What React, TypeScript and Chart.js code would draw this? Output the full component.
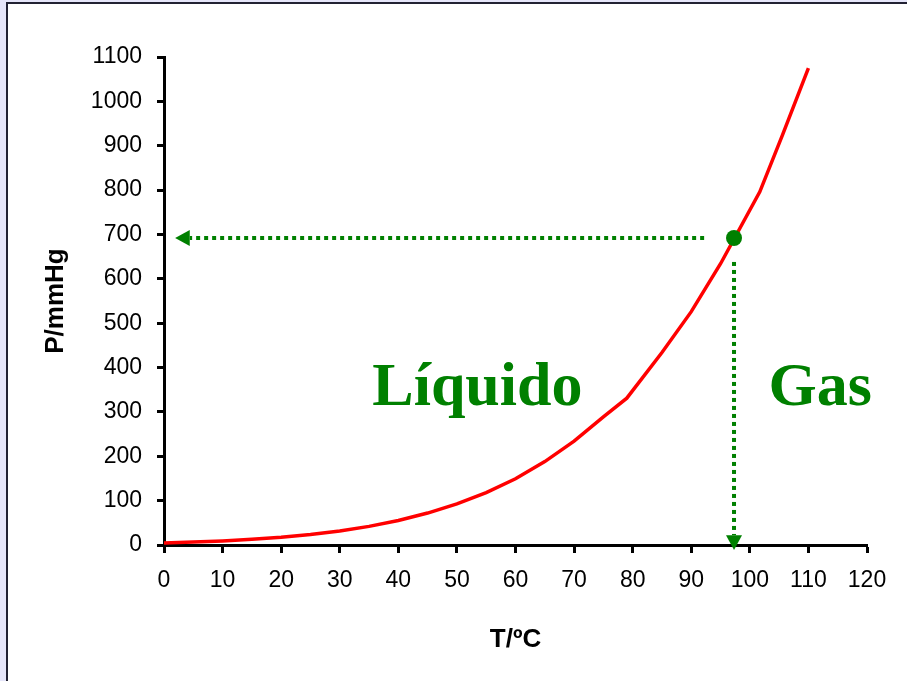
import React, { useEffect, useRef } from "react";
import { Chart, registerables } from "chart.js";

Chart.register(...registerables);

// Vapour pressure curve
const temperatures = [0, 5, 10, 15, 20, 25, 30, 35, 40, 45, 50, 55, 60, 65, 70, 75, 79, 85, 90, 95, 101.7, 105.6, 110];
const pressures = [4.6, 6.5, 9.2, 12.8, 17.5, 23.8, 31.8, 42, 55.3, 72, 92.5, 118, 149.4, 188, 234, 289, 331, 434, 526, 634, 796, 925, 1075];

// Marked point (boiling point at ~700 mmHg)
const markerT = [97.3];
const markerP = [692];

// Dotted arrows: horizontal at P = markerP, from T start to T tip; vertical at T = markerT, from P start to P tip
const hArrowT = [92.2, 4.4, 1.9]; // start, head base, tip
const vArrowP = [638, 22, -11]; // start, head base, tip

// Region labels
const phaseLabels = ["Líquido", "Gas"];
const phaseT = [53.5, 112];
const phaseP = [315, 315];

// Axis ticks
const xTicks = { min: 0, max: 120, step: 10 };
const yTicks = { min: 0, max: 1100, step: 100 };

const GREEN = "#008000";

const overlayPlugin = {
  id: "overlay",
  afterDraw(chart: any) {
    const { ctx, scales } = chart;
    const x = scales.x;
    const y = scales.y;
    ctx.save();
    ctx.strokeStyle = GREEN;
    ctx.fillStyle = GREEN;
    ctx.lineWidth = 4;
    ctx.setLineDash([4, 4]);

    // horizontal dotted arrow
    const hy = y.getPixelForValue(markerP[0]);
    const hx0 = x.getPixelForValue(hArrowT[0]);
    const hxb = x.getPixelForValue(hArrowT[1]);
    const hxt = x.getPixelForValue(hArrowT[2]);
    ctx.beginPath();
    ctx.moveTo(hx0, hy);
    ctx.lineTo(hxb, hy);
    ctx.stroke();

    // vertical dotted arrow
    const vx = x.getPixelForValue(markerT[0]);
    const vy0 = y.getPixelForValue(vArrowP[0]);
    const vyb = y.getPixelForValue(vArrowP[1]);
    const vyt = y.getPixelForValue(vArrowP[2]);
    ctx.beginPath();
    ctx.moveTo(vx, vy0);
    ctx.lineTo(vx, vyb);
    ctx.stroke();

    ctx.setLineDash([]);
    // arrow heads
    ctx.beginPath();
    ctx.moveTo(hxt, hy);
    ctx.lineTo(hxb, hy - 8);
    ctx.lineTo(hxb, hy + 8);
    ctx.closePath();
    ctx.fill();

    ctx.beginPath();
    ctx.moveTo(vx, vyt);
    ctx.lineTo(vx - 8, vyb);
    ctx.lineTo(vx + 8, vyb);
    ctx.closePath();
    ctx.fill();

    // phase labels
    ctx.font = 'bold 62px "Liberation Serif", "Times New Roman", serif';
    ctx.textAlign = "center";
    ctx.textBaseline = "alphabetic";
    phaseLabels.forEach((t, i) => {
      ctx.fillText(t, x.getPixelForValue(phaseT[i]), y.getPixelForValue(phaseP[i]));
    });
    ctx.restore();
  },
};

const plainTick = (v: any) => String(v);

export default function App() {
  const ref = useRef<HTMLCanvasElement>(null);

  useEffect(() => {
    if (!ref.current) return;
    const chart = new Chart(ref.current, {
      type: "scatter",
      data: {
        datasets: [
          {
            data: markerT.map((t, i) => ({ x: t, y: markerP[i] })),
            pointRadius: 8,
            pointBackgroundColor: GREEN,
            pointBorderWidth: 0,
            showLine: false,
            order: 0,
          },
          {
            data: temperatures.map((t, i) => ({ x: t, y: pressures[i] })),
            showLine: true,
            borderColor: "#ff0000",
            borderWidth: 3.5,
            pointRadius: 0,
            tension: 0,
            order: 1,
          },
        ],
      },
      options: {
        responsive: false,
        animation: false,
        layout: { padding: { left: 0, top: 57, right: 40, bottom: 0 } },
        plugins: { legend: { display: false }, tooltip: { enabled: false } },
        scales: {
          x: {
            type: "linear",
            min: xTicks.min,
            max: xTicks.max,
            afterFit: (s: any) => {
              s.height = 681 - 545;
            },
            ticks: {
              stepSize: xTicks.step,
              color: "#000",
              padding: 14,
              maxRotation: 0,
              callback: plainTick,
              font: { family: '"Liberation Sans", Arial, sans-serif', size: 23 },
            },
            grid: {
              drawOnChartArea: false,
              drawTicks: true,
              tickLength: 8,
              tickWidth: 3,
              tickColor: "#000",
            },
            border: { display: true, color: "#000", width: 3 },
            title: {
              display: true,
              text: "T/ºC",
              color: "#000",
              padding: { top: 0, bottom: 26 },
              font: { family: '"Liberation Sans", Arial, sans-serif', size: 26, weight: "bold" },
            },
          },
          y: {
            type: "linear",
            min: yTicks.min,
            max: yTicks.max,
            afterFit: (s: any) => {
              s.width = 164;
            },
            ticks: {
              stepSize: yTicks.step,
              color: "#000",
              padding: 15,
              callback: plainTick,
              font: { family: '"Liberation Sans", Arial, sans-serif', size: 23 },
            },
            grid: {
              drawOnChartArea: false,
              drawTicks: true,
              tickLength: 7,
              tickWidth: 3,
              tickColor: "#000",
            },
            border: { display: true, color: "#000", width: 3 },
            title: {
              display: true,
              text: "P/mmHg",
              color: "#000",
              padding: { top: 40, bottom: 0 },
              font: { family: '"Liberation Sans", Arial, sans-serif', size: 26, weight: "bold" },
            },
          },
        },
      },
      plugins: [overlayPlugin],
    });
    return () => chart.destroy();
  }, []);

  return (
    <div
      style={{
        position: "fixed",
        left: 0,
        top: 0,
        width: 907,
        height: 681,
        background: "#e6e6fa",
        overflow: "hidden",
      }}
    >
      <div
        style={{
          position: "absolute",
          left: 6,
          top: 2,
          width: 940,
          height: 720,
          background: "#ffffff",
          borderLeft: "2px solid #222233",
          borderTop: "2px solid #222233",
        }}
      />
      <canvas
        ref={ref}
        width={907}
        height={681}
        style={{ position: "absolute", left: 0, top: 0, width: 907, height: 681 }}
      />
    </div>
  );
}
